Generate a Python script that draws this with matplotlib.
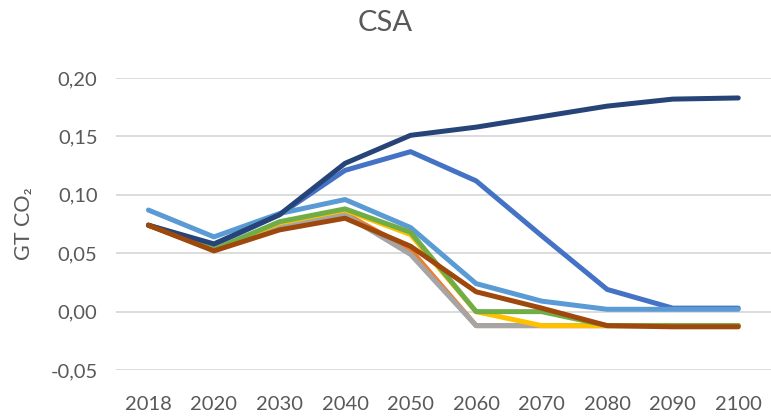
import matplotlib.pyplot as plt
import numpy as np

# anos (eixo de categorias)
anos = ["2018", "2020", "2030", "2040", "2050", "2060", "2070", "2080", "2090", "2100"]

# series (GT CO2)
azul = [0.074, 0.057, 0.083, 0.121, 0.137, 0.112, 0.065, 0.019, 0.003, 0.003]
laranja = [0.074, 0.053, 0.074, 0.084, 0.053, -0.012, -0.012, -0.012, -0.012, -0.012]
cinza = [0.074, 0.053, 0.073, 0.083, 0.049, -0.012, -0.012, -0.012, -0.012, -0.012]
amarelo = [0.074, 0.053, 0.076, 0.087, 0.066, 0.000, -0.012, -0.012, -0.012, -0.012]
azul_claro = [0.087, 0.064, 0.084, 0.096, 0.072, 0.024, 0.009, 0.002, 0.002, 0.002]
verde = [0.074, 0.053, 0.077, 0.088, 0.068, 0.000, 0.000, -0.012, -0.012, -0.012]
azul_escuro = [0.074, 0.058, 0.083, 0.127, 0.151, 0.158, 0.167, 0.176, 0.182, 0.183]
marrom = [0.074, 0.052, 0.070, 0.080, 0.056, 0.017, 0.003, -0.012, -0.013, -0.013]

series = [azul, laranja, cinza, amarelo, azul_claro, verde, azul_escuro, marrom]
cores = ["#4472C4", "#ED7D31", "#A5A5A5", "#FFC000", "#5B9BD5", "#70AD47", "#264478", "#9E480E"]

plt.rcParams['font.family'] = ['Lato', 'DejaVu Sans']
texto = "#595959"

fig = plt.figure(figsize=(7.71, 4.17), dpi=100)
ax = fig.add_axes([0.150, 0.1127, 0.850, 0.700])

x = np.arange(len(anos))
for s, c in zip(series, cores):
    ax.plot(x, s, color=c, linewidth=3.6, solid_capstyle="round", solid_joinstyle="round")

ax.set_xlim(-0.5, len(anos) - 0.5)
ax.set_ylim(-0.05, 0.20)
ax.set_yticks(np.arange(-0.05, 0.201, 0.05))
ax.set_yticklabels([f"{v:.2f}".replace(".", ",").replace("-0,00", "0,00") for v in np.arange(-0.05, 0.201, 0.05)])
ax.set_xticks(x)
ax.set_xticklabels(anos)
ax.grid(axis="y", color="#D9D9D9", linewidth=1.3)
ax.set_axisbelow(True)
for sp in ax.spines.values():
    sp.set_visible(False)
ax.tick_params(length=0, colors=texto, labelsize=14.5)
ax.tick_params(axis="y", pad=13)
ax.tick_params(axis="x", pad=19)

ax.set_ylabel("GT CO₂", color=texto, fontsize=15.5, labelpad=8)
ax.yaxis.set_label_coords(-0.125, 0.5)
fig.text(0.5, 0.945, "CSA", ha="center", va="center", fontsize=21, color=texto)

plt.savefig("out.png", dpi=100)
